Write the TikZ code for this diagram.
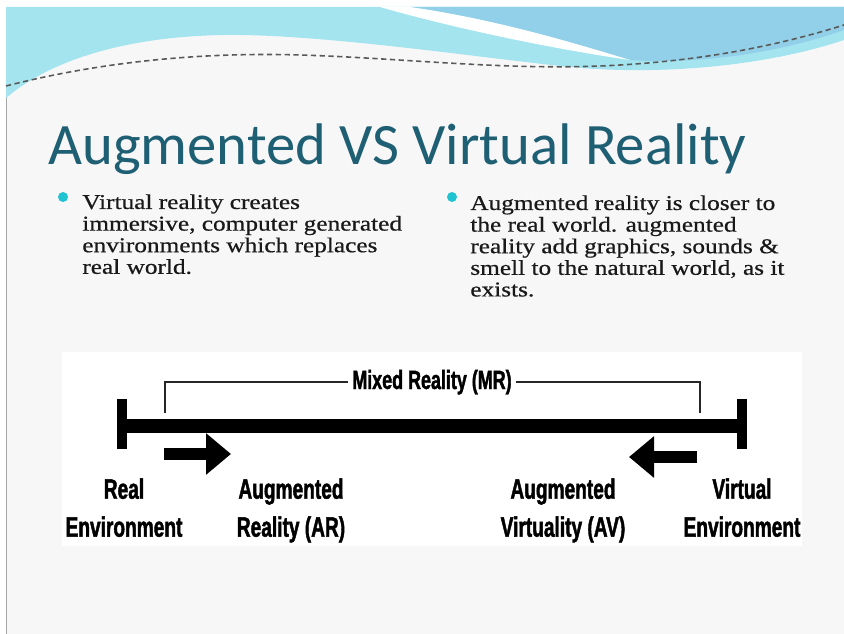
\documentclass[tikz,border=0pt]{standalone}
\usepackage{fontspec}
\usetikzlibrary{arrows.meta}
\setmainfont{Liberation Serif}
\newfontfamily\titlefont{Carlito}
\newfontfamily\bodyfont[FakeStretch=1.2,FakeBold=0.6]{Liberation Serif}
\newfontfamily\labelfont[FakeStretch=0.68,FakeBold=1.5]{Liberation Sans}
\definecolor{slidebg}{HTML}{F7F7F7}
\definecolor{wavecyan}{HTML}{A3E4EF}
\definecolor{waveblue}{HTML}{92CFE8}
\definecolor{titleteal}{HTML}{1E5F73}
\definecolor{dotcyan}{HTML}{20C3D0}

\begin{document}
\begin{tikzpicture}[x=0.02cm,y=-0.02cm,
    bodytext/.style={anchor=north west,inner sep=0,align=left,text=black!90,
      font=\bodyfont\fontsize{12}{12.3}\selectfont},
    barlabel/.style={anchor=north,inner sep=0,align=center,
      font=\labelfont\bfseries\fontsize{16}{21.6}\selectfont},
    fatarrow/.style={line width=0.24cm,-{Triangle[length=0.5cm,width=0.8cm]}}]
   \useasboundingbox (0,0) rectangle (844,634);
   \fill[white] (0,0) rectangle (844,634);
   \filldraw[fill=slidebg,draw=gray!70] (6,634) -- (6,7) -- (844,7) -- (844,634);
   % wave band at the top
   \fill[wavecyan] (6,7) -- (844,7) -- (844,40) .. controls (760,68) and (650,76) .. (560,66)
      .. controls (470,56) and (330,36) .. (240,35) .. controls (150,34) and (60,52) .. (6,98) -- cycle;
   \fill[waveblue] (410,7) -- (844,7) -- (844,30) .. controls (770,56) and (690,64) .. (630,60)
      .. controls (580,45) and (500,20) .. (410,7);
   \fill[white] (380,7) -- (410,7) .. controls (500,20) and (580,45) .. (630,60)
      .. controls (560,50) and (460,30) .. (380,7);
   \draw[black!65,line width=0.9pt,dash pattern=on 3pt off 2pt] (6,86) .. controls (100,62) and (200,52) .. (300,55)
      .. controls (400,58) and (500,70) .. (600,66) .. controls (700,62) and (780,45) .. (844,25);
   % title and the two bullets
   \node[anchor=base west,inner sep=0,text=titleteal,font=\titlefont\fontsize{33.4}{40}\selectfont]
      (title) at (48,165) {Augmented VS Virtual Reality};
   \fill[dotcyan] (63,197) circle(0.1cm);
   \fill[dotcyan] (452,197) circle(0.1cm);
   \node[bodytext] (vrtext) at (82,194) {Virtual reality creates\\immersive, computer generated\\environments which replaces\\real world.};
   \node[bodytext] (artext) at (470,195) {Augmented reality is closer to\\the real world. augmented\\reality add graphics, sounds \&\\smell to the natural world, as it\\exists.};
   % reality--virtuality continuum
   \fill[white] (62,352) rectangle (802,546);
   \fill[black] (122,419) rectangle (742,433);
   \fill[black] (117,399) rectangle (127,449);
   \fill[black] (737,399) rectangle (747,449);
   \coordinate (mrL) at (165,413);
   \coordinate (mrR) at (700,413);
   \node[inner sep=2pt,anchor=base,font=\labelfont\bfseries\fontsize{15}{16}\selectfont] (mr) at (432,389) {Mixed Reality (MR)};
   \draw[line width=0.8pt,black!85] (mr.west) -| (mrL);
   \draw[line width=0.8pt,black!85] (mr.east) -| (mrR);
   \coordinate (arTail) at (164,454);
   \coordinate (arTip) at (231,454);
   \draw[fatarrow] (arTail) -- (arTip);
   \coordinate (avTail) at (697,457);
   \coordinate (avTip) at (629,457);
   \draw[fatarrow] (avTail) -- (avTip);
   \node[barlabel] (realenv) at (124,478) {Real\\Environment};
   \node[barlabel] (arlabel) at (291,478) {Augmented\\Reality (AR)};
   \node[barlabel] (avlabel) at (563,478) {Augmented\\Virtuality (AV)};
   \node[barlabel] (virtenv) at (742,478) {Virtual\\Environment};
\end{tikzpicture}
\end{document}
